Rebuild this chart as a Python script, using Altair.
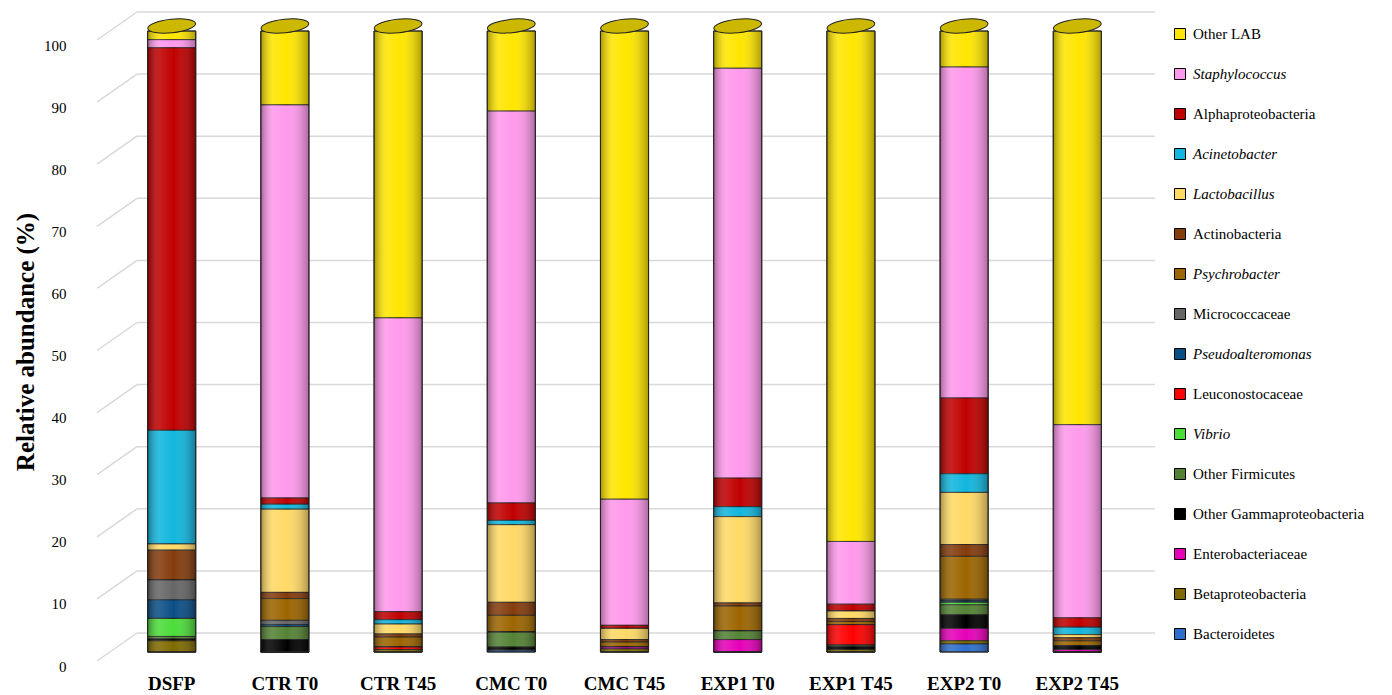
import altair as alt
import pandas as pd

samples = ["DSFP", "CTR T0", "CTR T45", "CMC T0", "CMC T45",
           "EXP1 T0", "EXP1 T45", "EXP2 T0", "EXP2 T45"]

# legend order (top -> bottom); stacking order is the reverse
taxa = ["Other LAB", "Staphylococcus", "Alphaproteobacteria", "Acinetobacter",
        "Lactobacillus", "Actinobacteria", "Psychrobacter", "Micrococcaceae",
        "Pseudoalteromonas", "Leuconostocaceae", "Vibrio", "Other Firmicutes",
        "Other Gammaproteobacteria", "Enterobacteriaceae", "Betaproteobacteria",
        "Bacteroidetes"]
colors = ["#FFE600", "#FF99EC", "#C00000", "#12B6DD",
          "#FFD966", "#843C0C", "#9C6500", "#666666",
          "#0B4E86", "#FF0000", "#4CDC3A", "#548235",
          "#000000", "#E600B8", "#7F6A00",
          "#2E6FCC"]
italic_taxa = ["Staphylococcus", "Acinetobacter", "Lactobacillus",
               "Psychrobacter", "Pseudoalteromonas", "Vibrio"]

# values per taxon, in the order of `samples`
other_lab = [1.4, 11.9, 46.2, 12.9, 75.4, 6.0, 82.2, 5.8, 63.4]
staphylococcus = [1.3, 63.3, 47.3, 63.1, 20.3, 66.0, 10.1, 53.3, 31.1]
alphaproteobacteria = [61.6, 1.0, 1.3, 2.8, 0.5, 4.6, 1.1, 12.2, 1.5]
acinetobacter = [18.3, 0.8, 0.7, 0.7, 0.0, 1.6, 0.0, 3.0, 1.2]
lactobacillus = [1.0, 13.4, 1.6, 12.5, 1.8, 13.9, 1.2, 8.4, 0.5]
actinobacteria = [4.8, 1.0, 0.5, 2.1, 0.4, 0.5, 0.5, 1.9, 0.5]
psychrobacter = [0.0, 3.5, 1.6, 2.7, 0.8, 4.0, 0.5, 6.9, 0.8]
micrococcaceae = [3.2, 0.7, 0.0, 0.0, 0.0, 0.0, 0.0, 0.2, 0.0]
pseudoalteromonas = [3.0, 0.3, 0.0, 0.0, 0.0, 0.0, 0.0, 0.3, 0.0]
leuconostocaceae = [0.0, 0.0, 0.4, 0.0, 0.0, 0.0, 3.3, 0.0, 0.0]
vibrio = [2.9, 0.0, 0.0, 0.0, 0.0, 0.0, 0.0, 0.4, 0.0]
other_firmicutes = [0.4, 2.1, 0.0, 2.4, 0.0, 1.4, 0.2, 1.6, 0.0]
other_gamma = [0.3, 2.0, 0.0, 0.5, 0.0, 0.0, 0.5, 2.2, 0.6]
enterobacteriaceae = [0.0, 0.0, 0.0, 0.0, 0.3, 2.0, 0.0, 2.0, 0.4]
betaproteobacteria = [1.8, 0.0, 0.4, 0.0, 0.5, 0.0, 0.4, 0.5, 0.0]
bacteroidetes = [0.0, 0.0, 0.0, 0.3, 0.0, 0.0, 0.0, 1.3, 0.0]

series = [other_lab, staphylococcus, alphaproteobacteria, acinetobacter,
          lactobacillus, actinobacteria, psychrobacter, micrococcaceae,
          pseudoalteromonas, leuconostocaceae, vibrio, other_firmicutes,
          other_gamma, enterobacteriaceae, betaproteobacteria, bacteroidetes]

y_ticks = [0, 10, 20, 30, 40, 50, 60, 70, 80, 90, 100]

rows = []
n = len(taxa)
for i, (t, vals) in enumerate(zip(taxa, series)):
    for s, v in zip(samples, vals):
        rows.append({"sample": s, "taxon": t, "value": v, "rank": n - 1 - i})
df = pd.DataFrame(rows)

ldf = pd.DataFrame({"taxon": taxa, "idx": list(range(n)),
                    "italic": [t in italic_taxa for t in taxa]})
tdf = pd.DataFrame({"tick": y_ticks})

FONT = "Liberation Serif"
GRID = "#d9d9d9"
yscale = alt.Scale(domain=[0, 100], nice=False, zero=True)
color_scale = alt.Scale(domain=taxa, range=colors)

xenc = alt.X("sample:N", sort=samples,
             scale=alt.Scale(paddingInner=0.575, paddingOuter=0.2),
             axis=alt.Axis(title=None, labelAngle=0, labelFont=FONT,
                           labelFontSize=19, labelFontWeight="bold",
                           labelColor="black", ticks=False, tickSize=0,
                           domain=False, labelPadding=22))

yaxis = alt.Axis(values=y_ticks, title="Relative abundance (%)",
                 titleFont=FONT, titleFontSize=25, titleFontWeight="bold",
                 titleColor="black", titlePadding=5,
                 labelFont=FONT, labelFontSize=15, labelColor="black",
                 labelPadding=59, labelOffset=14, ticks=False, tickSize=0,
                 domain=False, grid=False)

# back-wall gridlines
grid = alt.Chart(tdf).mark_rule(
    color=GRID, strokeWidth=1.5, yOffset=-19
).encode(x=alt.value(12), x2=alt.value(1030),
         y=alt.Y("tick:Q", scale=yscale, axis=yaxis))

# side-wall diagonal stubs
stubs = alt.Chart(tdf).mark_rule(
    color=GRID, strokeWidth=1.5, yOffset=9, y2Offset=-19
).encode(x=alt.value(-28), x2=alt.value(12),
         y=alt.Y("tick:Q", scale=yscale, axis=yaxis), y2="tick:Q")

bars = alt.Chart(df).mark_bar(stroke="#1a1a1a", strokeWidth=0.8).encode(
    x=xenc,
    y=alt.Y("value:Q", stack="zero", scale=yscale, axis=yaxis),
    color=alt.Color("taxon:N", scale=color_scale, legend=None),
    order=alt.Order("rank:Q", sort="ascending"),
)

shade_grad = alt.LinearGradient(
    gradient="linear", x1=0, y1=0, x2=1, y2=0,
    stops=[alt.GradientStop(offset=0, color="rgba(0,0,0,0.35)"),
           alt.GradientStop(offset=0.25, color="rgba(255,255,255,0.12)"),
           alt.GradientStop(offset=0.55, color="rgba(255,255,255,0.0)"),
           alt.GradientStop(offset=1, color="rgba(0,0,0,0.32)")])

shade = alt.Chart(df).mark_bar(color=shade_grad, stroke="#222222",
                               strokeWidth=1).encode(
    x=xenc,
    y=alt.Y("sum(value):Q", scale=yscale, axis=yaxis),
)

ellipse = "M -1 0 A 1 0.28 0 1 0 1 0 A 1 0.28 0 1 0 -1 0 Z"
cap = alt.Chart(df).mark_point(
    shape=ellipse, size=2304, filled=True, fill="#CDB800", stroke="#222222",
    strokeWidth=1, opacity=1, yOffset=-5, angle=354
).encode(
    x=xenc,
    y=alt.Y("sum(value):Q", scale=yscale, axis=yaxis),
)

main = alt.layer(grid, stubs, bars, shade, cap).properties(width=999, height=621)

lscale = alt.Scale(domain=[-0.075, 15.45], reverse=True, nice=False, zero=False)
sq = alt.Chart(ldf).mark_square(size=121, stroke="black", strokeWidth=1,
                                opacity=1).encode(
    x=alt.value(12),
    y=alt.Y("idx:Q", scale=lscale, axis=None),
    color=alt.Color("taxon:N", scale=color_scale, legend=None),
)
txt_normal = alt.Chart(ldf).transform_filter("!datum.italic").mark_text(
    align="left", baseline="middle", font=FONT, fontSize=15, color="black"
).encode(x=alt.value(25), y=alt.Y("idx:Q", scale=lscale, axis=None),
         text="taxon:N")
txt_italic = alt.Chart(ldf).transform_filter("datum.italic").mark_text(
    align="left", baseline="middle", font=FONT, fontSize=15, color="black",
    fontStyle="italic"
).encode(x=alt.value(25), y=alt.Y("idx:Q", scale=lscale, axis=None),
         text="taxon:N")

legend = alt.layer(sq, txt_normal, txt_italic).properties(width=200, height=621)

chart = alt.hconcat(main, legend, spacing=12).properties(
    padding={"left": 5, "top": 3, "right": 0, "bottom": 0}
).configure(font=FONT).configure_view(stroke=None)

chart.save("out.html", embed_options={"renderer": "svg", "actions": False})
